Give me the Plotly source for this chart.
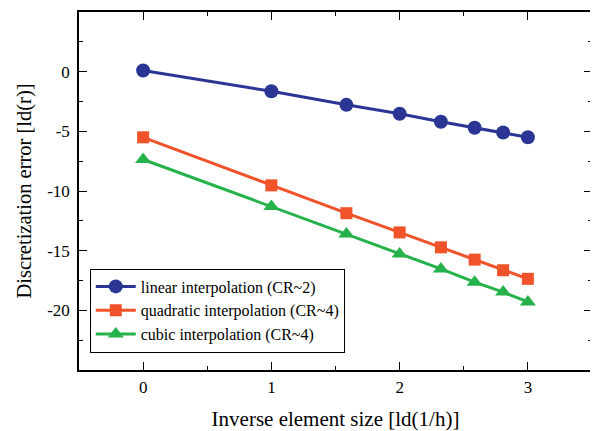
import plotly.graph_objects as go

x_vals = [0, 1, 1.585, 2, 2.322, 2.585, 2.807, 3]
linear = [0.1, -1.64, -2.78, -3.53, -4.2, -4.7, -5.1, -5.5]
quadratic = [-5.5, -9.53, -11.86, -13.47, -14.72, -15.75, -16.64, -17.36]
cubic = [-7.36, -11.3, -13.6, -15.28, -16.53, -17.64, -18.47, -19.3]
names = ["linear interpolation (CR~2)", "quadratic interpolation (CR~4)", "cubic interpolation (CR~4)"]
colors = ["#2B3694", "#F0522A", "#26B24B"]
symbols = ["circle", "square", "triangle-up"]
msizes = [14, 12, 14]
x_ticks = [0, 1, 2, 3]
y_ticks = [-20, -15, -10, -5, 0]
y_ticklabels = ["-20", "-15", "-10", "-5", "0"]

fig = go.Figure()
for ys, n, c, s, ms in zip([linear, quadratic, cubic], names, colors, symbols, msizes):
    fig.add_trace(go.Scatter(x=x_vals, y=ys, name=n, mode="lines+markers",
                             line=dict(color=c, width=3),
                             marker=dict(symbol=s, size=ms, color=c)))

font = "Liberation Serif"
axis_common = dict(showline=True, linecolor="black", linewidth=1.5, mirror="ticks",
                   ticks="inside", ticklen=8, tickwidth=1, tickcolor="black",
                   showgrid=False, zeroline=False, automargin=False,
                   tickfont=dict(family=font, size=17, color="black"))
fig.update_xaxes(range=[-0.5, 3.5], tickmode="array", tickvals=x_ticks,
                 ticktext=[str(v) for v in x_ticks], ticklabelstandoff=1,
                 minor=dict(ticks="inside", ticklen=4, dtick=0.5, tick0=0, tickcolor="black"),
                 title=dict(text="Inverse element size [ld(1/h)]", font=dict(family=font, size=21, color="black"), standoff=16),
                 **axis_common)
fig.update_yaxes(range=[-25, 5], tickmode="array", tickvals=y_ticks, ticktext=y_ticklabels,
                 ticklabelstandoff=4,
                 minor=dict(ticks="inside", ticklen=4, dtick=2.5, tick0=0, tickcolor="black"),
                 title=dict(text="Discretization error [ld(r)]", font=dict(family=font, size=20.5, color="black"), standoff=10),
                 **axis_common)
fig.update_layout(width=590, height=423, margin=dict(l=71, r=6, t=4, b=61),
                  font=dict(family=font, color="black"),
                  plot_bgcolor="white", paper_bgcolor="white",
                  legend=dict(x=0.021, y=0.2835, xanchor="left", yanchor="top",
                              bordercolor="black", borderwidth=1, bgcolor="white",
                              font=dict(family=font, size=16, color="black"),
                              tracegroupgap=0, itemwidth=40),
                  showlegend=True)
fig.write_html("out.html")
